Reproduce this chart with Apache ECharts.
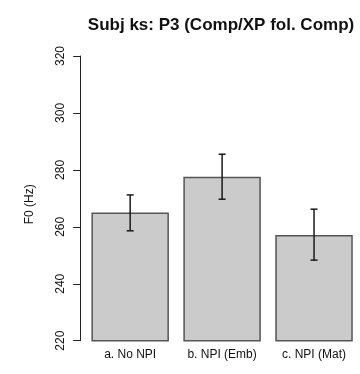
<!DOCTYPE html>
<html>
<head>
<meta charset="utf-8">
<script src="https://cdn.jsdelivr.net/npm/echarts@6/dist/echarts.min.js"></script>
<style>
  html, body { margin: 0; padding: 0; background: #fff; }
  #chart { width: 360px; height: 374px; }
</style>
</head>
<body>
<div id="chart"></div>
<script>
// Mean F0 per condition with error-bar bounds (Hz)
const categories = ['a. No NPI', 'b. NPI (Emb)', 'c. NPI (Mat)'];
const meanF0 = [265.0, 277.6, 257.1];
const errLow = [258.6, 269.7, 248.3];
const errHigh = [271.2, 285.5, 266.2];
const yTicks = [220, 240, 260, 280, 300, 320];

const FONT = '"Liberation Sans", Arial, Helvetica, sans-serif';

const chart = echarts.init(document.getElementById('chart'));

const errData = categories.map((c, i) => [i, errLow[i], errHigh[i]]);

chart.setOption({
  animation: false,
  title: {
    text: 'Subj ks: P3 (Comp/XP fol. Comp)',
    left: 216,
    top: 12,
    textAlign: 'center',
    textStyle: { fontFamily: FONT, fontSize: 17, fontWeight: 'bold', color: '#111' }
  },
  grid: { left: 84.2, width: 277.8, top: 56, height: 284.7 },
  xAxis: {
    type: 'category',
    data: categories,
    axisLine: { show: false },
    axisTick: { show: false },
    axisLabel: { fontFamily: FONT, fontSize: 12, color: '#111', margin: 8 }
  },
  yAxis: {
    type: 'value',
    min: yTicks[0],
    max: yTicks[yTicks.length - 1],
    interval: 20,
    offset: 3.5,
    name: 'F0 (Hz)',
    nameLocation: 'middle',
    nameRotate: 90,
    nameGap: 45,
    nameTextStyle: { fontFamily: FONT, fontSize: 12, color: '#111', padding: [0, 12, 0, 0] },
    axisLine: { show: true, lineStyle: { color: '#222', width: 1 } },
    axisTick: { show: true, length: 7.5, lineStyle: { color: '#222', width: 1 } },
    axisLabel: { rotate: 90, fontFamily: FONT, fontSize: 12, color: '#111', margin: 14 },
    splitLine: { show: false }
  },
  series: [
    {
      type: 'bar',
      data: meanF0,
      barWidth: 77.5,
      itemStyle: { color: '#cbcbcb', borderColor: '#555', borderWidth: 1.5 }
    },
    {
      type: 'custom',
      data: errData,
      z: 10,
      renderItem: function (params, api) {
        const x = api.value(0);
        const lo = api.coord([x, api.value(1)]);
        const hi = api.coord([x, api.value(2)]);
        const cap = 3.5;
        const style = { stroke: '#1a1a1a', lineWidth: 1.5 };
        return {
          type: 'group',
          children: [
            { type: 'line', shape: { x1: lo[0], y1: lo[1], x2: hi[0], y2: hi[1] }, style: style },
            { type: 'line', shape: { x1: lo[0] - cap, y1: lo[1], x2: lo[0] + cap, y2: lo[1] }, style: style },
            { type: 'line', shape: { x1: hi[0] - cap, y1: hi[1], x2: hi[0] + cap, y2: hi[1] }, style: style }
          ]
        };
      }
    }
  ]
});
</script>
</body>
</html>
